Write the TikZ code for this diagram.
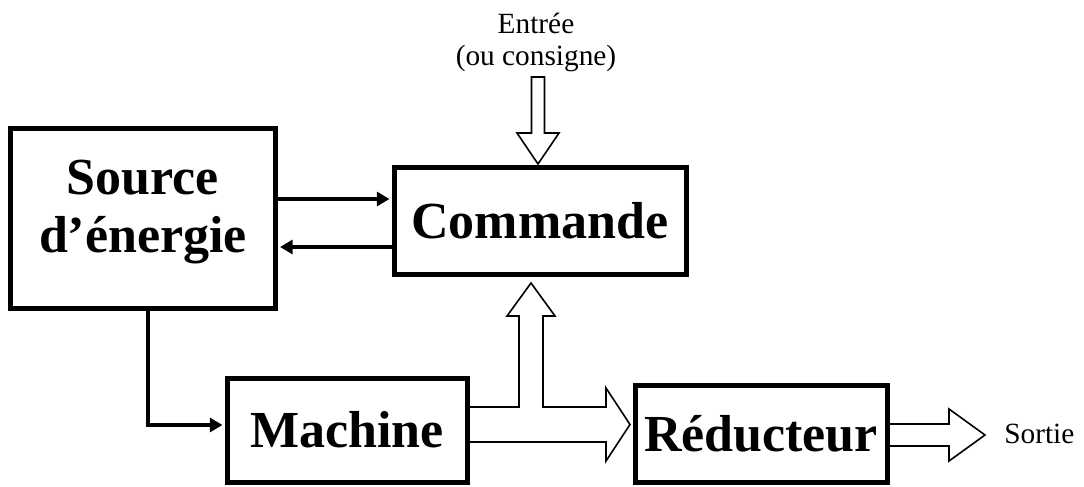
\documentclass[tikz,border=0pt]{standalone}
\usepackage{fontspec}
\setmainfont{Liberation Serif}
\usetikzlibrary{arrows.meta,calc}
\begin{document}
\begin{tikzpicture}[x=0.75pt,y=-0.75pt,
  box/.style={draw,line width=3.75pt,inner sep=0pt,align=center,
    font=\fontsize{39}{43.5}\selectfont\bfseries},
  onel/.style={text height=26.5pt,text depth=0pt},
  thinarrow/.style={line width=3pt,-{Triangle[length=9.5pt,width=10.5pt]},shorten >=1.5pt},
  hollow/.style={line width=1.2pt,fill=white,line join=miter},
  lbl/.style={font=\fontsize{22}{24}\selectfont,inner sep=0pt,align=center}]
\useasboundingbox (0,0) rectangle (1084,486);
% boxes
\node[box,minimum width=198.75pt,minimum height=135pt,text depth=18pt] (src) at (143,218.5) {Source\\d’énergie};
\node[box,onel,minimum width=219pt,minimum height=80.25pt] (cmd) at (540,220.5) {Commande};
\node[box,onel,minimum width=180pt,minimum height=78pt] (mac) at (347,430) {Machine};
\node[box,onel,minimum width=189pt,minimum height=72.75pt] (red) at (761,433.5) {Réducteur};
% labels
\node[lbl] (ent) at (536,42) {Entrée\\(ou consigne)};
\node[lbl,anchor=base west] (out) at (1004,443) {Sortie};
% thin arrows
\draw[thinarrow] (src.east |- 0,199) -- (cmd.west |- 0,199);
\draw[thinarrow] (cmd.west |- 0,247) -- (src.east |- 0,247);
\draw[thinarrow] (src.south -| 148,0) |- (mac.west |- 0,425);
% hollow arrows
\draw[hollow] (538,164) -- (517,133) -- (531.5,133) -- (531.5,77) -- (544.5,77) -- (544.5,133) -- (559,133) -- cycle;
\draw[hollow] (470,407) -- (519,407) -- (519,316) -- (507,316) -- (531,283) -- (555,316) -- (543,316) -- (543,407) -- (606,407) -- (606,388) -- (630,424.5) -- (606,461) -- (606,442) -- (470,442);
\draw[hollow] (890,424) -- (949,424) -- (949,409) -- (985,435) -- (949,461) -- (949,446) -- (890,446);
\end{tikzpicture}
\end{document}
